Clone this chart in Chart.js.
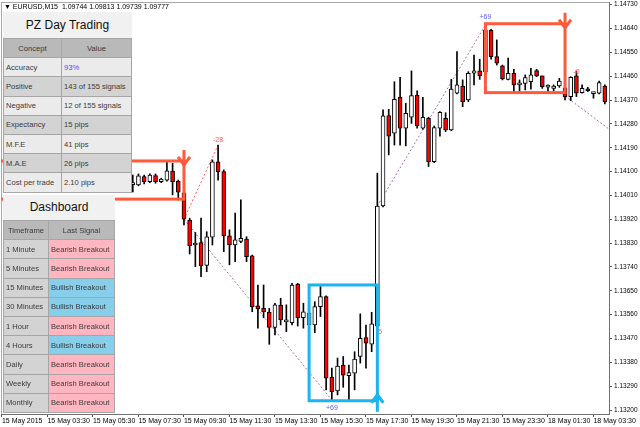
<!DOCTYPE html>
<html>
<head>
<meta charset="utf-8">
<script src="https://cdn.jsdelivr.net/npm/chart.js@4.4.1/dist/chart.umd.min.js"></script>
<style>
html,body{margin:0;padding:0;background:#fff;}
#wrap{position:relative;width:640px;height:427px;overflow:hidden;font-family:'Liberation Sans','DejaVu Sans',Arial,sans-serif;}
#c{position:absolute;left:0;top:0;}
.hdr{position:absolute;left:4px;top:2px;font-size:7px;line-height:9px;color:#000;white-space:nowrap;}
.ptitle{position:absolute;background:#f1f1f1;text-align:center;font-size:12px;color:#111;}
.tbl{position:absolute;display:grid;gap:1px;padding:1px;background:#a6a6a6;grid-auto-rows:18.2px;}
.tbl div{font-size:7.6px;color:#3a3a3a;display:flex;align-items:center;padding-left:2px;white-space:nowrap;overflow:hidden;}
.tbl div.h{justify-content:center;padding-left:0;background:#b9b9b9;}
</style>
</head>
<body>
<div id="wrap">
  <canvas id="c" width="640" height="427"></canvas>
  <div class="hdr">&#9660; EURUSD,M15&nbsp; 1.09744 1.09813 1.09739 1.09777</div>
  <div class="ptitle" style="left:3px;top:12px;width:129px;height:26px;line-height:26px;">PZ Day Trading</div>
  <div id="pz" class="tbl" style="left:3px;top:38px;grid-template-columns:57px 69px;"></div>
  <div class="ptitle" style="left:3px;top:195px;width:112px;height:25px;line-height:25px;">Dashboard</div>
  <div id="dash" class="tbl" style="left:3px;top:220px;grid-template-columns:44px 65px;"></div>
</div>
<script>
// ---------- DATA ----------
const barNo = Array.from({length: 84}, (_, i) => i); // bar positions (category order)
const opens = [1.14051,1.14050,1.14081,1.14062,1.14085,1.14062,1.14068,1.14102,1.14064,1.14020,
1.13917,1.13823,1.13832,1.13746,1.13852,1.14137,1.14100,1.13857,1.13823,1.13836,
1.13845,1.13782,1.13593,1.13584,1.13570,1.13512,1.13596,1.13533,1.13530,1.13675,
1.13549,1.13521,1.13521,1.13590,1.13628,1.13324,1.13272,1.13370,1.13330,1.13339,
1.13402,1.13473,1.13449,1.13517,1.13970,1.14311,1.14245,1.14380,1.14264,1.14305,
1.14389,1.14264,1.14301,1.14137,1.14264,1.14301,1.14257,1.14396,1.14423,1.14370,
1.14471,1.14480,1.14476,1.14634,1.14534,1.14499,1.14448,1.14471,1.14427,1.14433,
1.14439,1.14481,1.14461,1.14419,1.14414,1.14423,1.14416,1.14383,1.14461,1.14398,
1.14412,1.14394,1.14396,1.14423];
const highs = [1.14087,1.14091,1.14087,1.14091,1.14091,1.14075,1.14135,1.14131,1.14068,1.14031,
1.13924,1.13870,1.13924,1.13873,1.14144,1.14200,1.14106,1.13880,1.13943,1.13993,
1.13854,1.13785,1.13672,1.13672,1.13584,1.13603,1.13622,1.13597,1.13678,1.13678,
1.13603,1.13578,1.13609,1.13666,1.13631,1.13358,1.13396,1.13402,1.13370,1.13420,
1.13563,1.13521,1.13569,1.14094,1.14333,1.14335,1.14439,1.14456,1.14358,1.14480,
1.14405,1.14380,1.14305,1.14272,1.14326,1.14322,1.14448,1.14553,1.14446,1.14477,
1.14540,1.14524,1.14653,1.14637,1.14597,1.14502,1.14528,1.14486,1.14446,1.14465,
1.14490,1.14486,1.14461,1.14427,1.14427,1.14452,1.14427,1.14458,1.14480,1.14427,
1.14418,1.14398,1.14442,1.14427];
const lows = [1.14023,1.14046,1.14053,1.14058,1.14056,1.14058,1.14064,1.14012,1.13993,1.13899,
1.13789,1.13741,1.13703,1.13722,1.13823,1.14068,1.13798,1.13748,1.13760,1.13832,
1.13760,1.13571,1.13509,1.13548,1.13448,1.13483,1.13521,1.13496,1.13521,1.13517,
1.13509,1.13510,1.13492,1.13553,1.13276,1.13238,1.13257,1.13286,1.13238,1.13276,
1.13377,1.13358,1.13420,1.13502,1.13967,1.14163,1.14200,1.14200,1.14197,1.14282,
1.14264,1.14260,1.14119,1.14134,1.14234,1.14251,1.14254,1.14393,1.14345,1.14364,
1.14427,1.14448,1.14465,1.14524,1.14502,1.14446,1.14446,1.14402,1.14402,1.14408,
1.14411,1.14458,1.14414,1.14402,1.14405,1.14418,1.14370,1.14368,1.14383,1.14396,
1.14402,1.14377,1.14393,1.14355];
const closes = [1.14055,1.14084,1.14062,1.14087,1.14062,1.14072,1.14103,1.14062,1.14022,1.13920,
1.13820,1.13827,1.13745,1.13854,1.14137,1.14100,1.13858,1.13823,1.13842,1.13848,
1.13779,1.13590,1.13582,1.13571,1.13512,1.13597,1.13540,1.13534,1.13672,1.13549,
1.13571,1.13566,1.13590,1.13628,1.13320,1.13269,1.13366,1.13332,1.13341,1.13392,
1.13471,1.13452,1.13525,1.13970,1.14310,1.14234,1.14373,1.14264,1.14320,1.14387,
1.14272,1.14305,1.14137,1.14266,1.14324,1.14257,1.14411,1.14427,1.14364,1.14471,
1.14480,1.14461,1.14634,1.14534,1.14509,1.14450,1.14471,1.14427,1.14431,1.14455,
1.14465,1.14461,1.14420,1.14420,1.14423,1.14442,1.14382,1.14456,1.14396,1.14414,
1.14405,1.14396,1.14436,1.14364];

const xTickBars = [-23,-15,-7,1,9,17,25,33,41,49,57,65,73,81];
const xTickLabels = ['15 May 2015','15 May 03:30','15 May 05:30','15 May 07:30','15 May 09:30','15 May 11:30',
  '15 May 13:30','15 May 15:30','15 May 17:30','15 May 19:30','15 May 21:30','15 May 23:30','18 May 01:30','18 May 03:30'];
const yTicks = [1.13200,1.13290,1.13380,1.13470,1.13560,1.13650,1.13740,1.13830,1.13920,
  1.14010,1.14100,1.14190,1.14280,1.14370,1.14460,1.14550,1.14640,1.14730];

// breakout boxes (bar range and price range) and signal direction
const boxStartBar = [-40, 62, 31];
const boxEndBar   = [9, 76, 43];
const boxHigh     = [1.14140, 1.14658, 1.13672];
const boxLow      = [1.13996, 1.14398, 1.13235];
const boxSignal   = ['bear', 'bear', 'bull'];

// excursion lines
const mfeBear1 = [{x:9, y:1.13920}, {x:35, y:1.13238}];
const maeBear1 = [{x:9, y:1.13920}, {x:15, y:1.14200}];
const mfeBull1 = [{x:43, y:1.13970}, {x:62, y:1.14653}];
const mfeBear2 = [{x:76, y:1.14385}, {x:84, y:1.14256}];

// excursion labels
const noteText  = ['-28', '+69', '+69', '5', '-0'];
const noteBar   = [15, 35, 62, 43.5, 78];
const notePrice = [1.14219, 1.13208, 1.14684, 1.13495, 1.14476];
const noteKind  = ['adverse', 'favor', 'favor', 'adverse', 'adverse'];

// panels
const pzConcepts = ['Accuracy','Positive','Negative','Expectancy','M.F.E','M.A.E','Cost per trade'];
const pzValues = ['93%','143 of 155 signals','12 of 155 signals','15 pips','41 pips','26 pips','2.10 pips'];
const dashTimeframes = ['1 Minute','5 Minutes','15 Minutes','30 Minutes','1 Hour','4 Hours','Daily','Weekly','Monthly'];
const dashSignals = ['Bearish Breakout','Bearish Breakout','Bullish Breakout','Bullish Breakout','Bearish Breakout',
  'Bullish Breakout','Bearish Breakout','Bearish Breakout','Bearish Breakout'];

// ---------- PANELS ----------
function cell(parent, text, bg, cls, color) {
  const d = document.createElement('div');
  d.textContent = text;
  if (bg) d.style.background = bg;
  if (cls) d.className = cls;
  if (color) d.style.color = color;
  parent.appendChild(d);
}
const pz = document.getElementById('pz');
cell(pz, 'Concept', null, 'h'); cell(pz, 'Value', null, 'h');
pzConcepts.forEach((c, i) => {
  const bg = i % 2 === 0 ? '#ebebeb' : '#d3d3d3';
  cell(pz, c, bg);
  cell(pz, pzValues[i], bg, null, i === 0 ? '#4a4aff' : null);
});
const dash = document.getElementById('dash');
cell(dash, 'Timeframe', null, 'h'); cell(dash, 'Last Signal', null, 'h');
dashTimeframes.forEach((t, i) => {
  cell(dash, t, '#d3d3d3');
  cell(dash, dashSignals[i], dashSignals[i].startsWith('Bull') ? '#87ceeb' : '#ffb6c1');
});

// ---------- CHART ----------
Chart.defaults.font.family = "'Liberation Sans', Arial, sans-serif";
const bodyColors = opens.map((o, i) => closes[i] < o ? '#ff0000' : '#ffffff');

const overlay = {
  id: 'overlay',
  beforeDatasetsDraw(chart) {
    const {ctx, chartArea: a} = chart;
    ctx.save();
    ctx.strokeStyle = '#a8a8a8';
    ctx.lineWidth = 1;
    ctx.beginPath();
    ctx.moveTo(a.left, a.top + 0.5); ctx.lineTo(a.right, a.top + 0.5);
    ctx.moveTo(a.left + 0.5, a.top); ctx.lineTo(a.left + 0.5, a.bottom);
    ctx.stroke();
    ctx.restore();
  },
  afterDatasetsDraw(chart) {
    const {ctx, chartArea: a, scales: {x, y}} = chart;
    ctx.save();
    ctx.beginPath(); ctx.rect(a.left, a.top, a.right - a.left, a.bottom - a.top); ctx.clip();
    boxStartBar.forEach((s, i) => {
      const x0 = x.getPixelForValue(s), x1 = x.getPixelForValue(boxEndBar[i]);
      const yt = y.getPixelForValue(boxHigh[i]), yb = y.getPixelForValue(boxLow[i]);
      const col = boxSignal[i] === 'bull' ? '#1ab4f0' : '#ff5a3c';
      ctx.strokeStyle = col; ctx.lineWidth = 3; ctx.lineJoin = 'miter';
      ctx.strokeRect(x0, yt, x1 - x0, yb - yt);
      ctx.beginPath();
      if (boxSignal[i] === 'bear') {
        ctx.moveTo(x1, yt - 11); ctx.lineTo(x1, yt + 4);
        ctx.moveTo(x1 - 6, yt - 4); ctx.lineTo(x1, yt + 4); ctx.lineTo(x1 + 6, yt - 4);
      } else {
        ctx.moveTo(x1, yb + 11); ctx.lineTo(x1, yb - 6);
        ctx.moveTo(x1 - 6, yb + 2); ctx.lineTo(x1, yb - 6); ctx.lineTo(x1 + 6, yb + 2);
      }
      ctx.stroke();
    });
    ctx.font = "7px 'Liberation Sans', Arial, sans-serif";
    ctx.textAlign = 'center'; ctx.textBaseline = 'middle';
    noteText.forEach((t, i) => {
      ctx.fillStyle = noteKind[i] === 'favor' ? '#5a5aff' : '#ff5a5a';
      ctx.fillText(t, x.getPixelForValue(noteBar[i]), y.getPixelForValue(notePrice[i]));
    });
    ctx.restore();
  }
};

function dotted(data, color) {
  return {type: 'line', data, borderColor: color, borderWidth: 1, borderDash: [2, 2],
    pointRadius: 0, fill: false, order: 3, tension: 0};
}

new Chart(document.getElementById('c'), {
  type: 'bar',
  data: {
    datasets: [
      {type: 'bar', data: barNo.map((b, i) => ({x: b, y: [opens[i], closes[i]]})),
        backgroundColor: bodyColors, borderColor: '#000', borderWidth: 1, borderSkipped: false,
        barThickness: 4, minBarLength: 2, grouped: false, order: 0},
      {type: 'bar', data: barNo.map((b, i) => ({x: b, y: [lows[i], highs[i]]})),
        backgroundColor: '#000', borderWidth: 0, barThickness: 1, grouped: false, order: 1},
      dotted(mfeBear1, '#a070b8'),
      dotted(maeBear1, '#ff6060'),
      dotted(mfeBull1, '#a070b8'),
      dotted(mfeBear2, '#a070b8')
    ]
  },
  options: {
    responsive: false,
    animation: false,
    events: [],
    layout: {padding: {left: 1, top: 2, right: 0, bottom: 0}},
    plugins: {legend: {display: false}, tooltip: {enabled: false}},
    scales: {
      x: {
        type: 'linear', min: -23.17, max: 83.73, offset: false,
        grid: {display: true, drawOnChartArea: false, drawTicks: true, tickLength: 3, color: '#555', offset: false},
        border: {display: true, color: '#707070'},
        ticks: {autoSkip: false, maxRotation: 0, align: 'start', padding: 0, color: '#000',
          font: {size: 7}, callback: (v) => xTickLabels[xTickBars.indexOf(v)] ?? ''},
        afterBuildTicks: (s) => { s.ticks = xTickBars.map(v => ({value: v})); },
        afterFit: (s) => { s.height = 13; s.paddingLeft = 0; s.paddingRight = 0; }
      },
      y: {
        type: 'linear', position: 'right', min: 1.13185, max: 1.14740,
        grid: {display: true, drawOnChartArea: false, drawTicks: true, tickLength: 3, color: '#555'},
        border: {display: true, color: '#707070'},
        ticks: {padding: 2, color: '#000', font: {size: 6.5}, callback: (v) => Number(v).toFixed(5)},
        afterBuildTicks: (s) => { s.ticks = yTicks.map(v => ({value: v})); },
        afterFit: (s) => { s.width = 31; s.paddingTop = 0; s.paddingBottom = 0; }
      }
    }
  },
  plugins: [overlay]
});
</script>
</body>
</html>
